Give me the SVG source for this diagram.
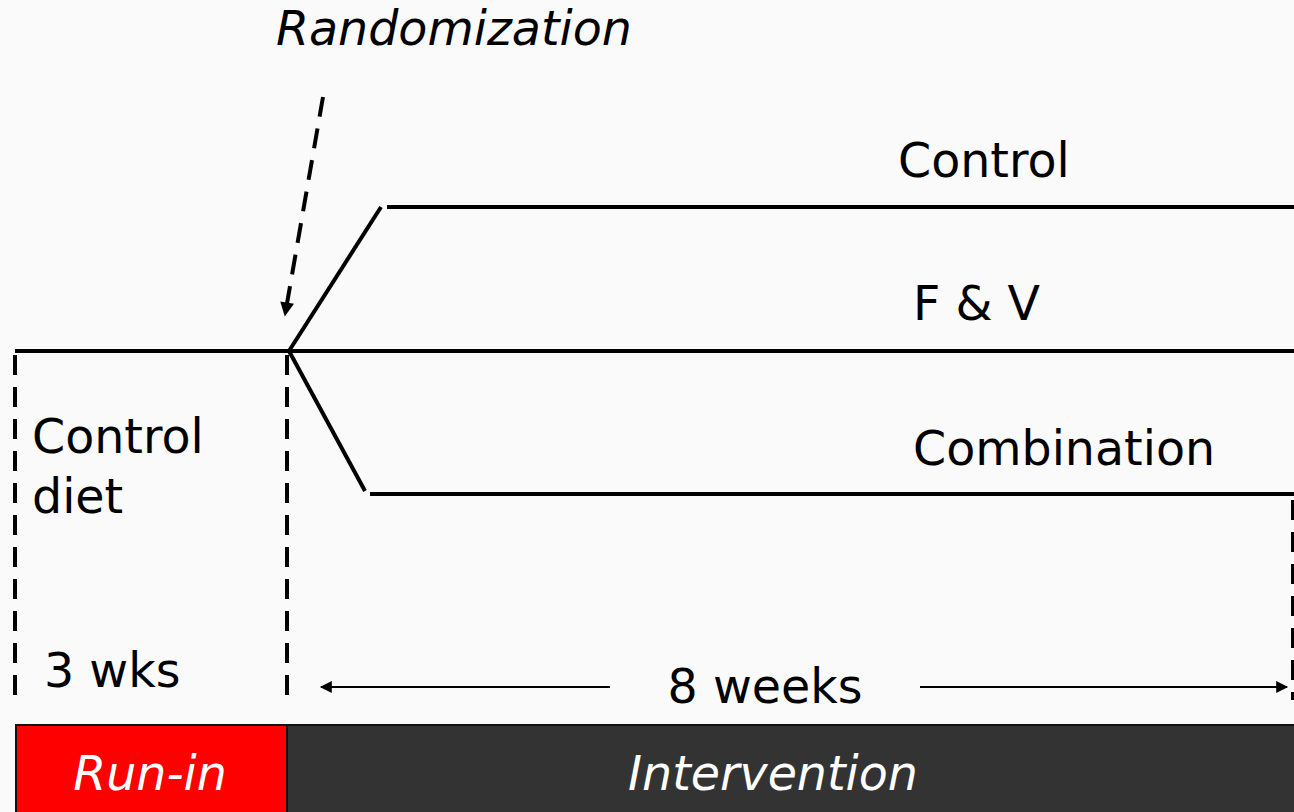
<svg xmlns="http://www.w3.org/2000/svg" width="1294" height="812" viewBox="0 0 1294 812">
<style>
.t{font-family:"DejaVu Sans",Verdana,sans-serif;font-size:47.5px;fill:#000}
.i{font-style:italic}
.w{fill:#fff}
.ln{stroke:#000;stroke-width:4;fill:none}
.dash{stroke:#000;stroke-width:4;fill:none;stroke-dasharray:20 12}
.thin{stroke:#000;stroke-width:2;fill:none}
</style>
<defs>
<marker id="ah" viewBox="0 0 10 10" refX="9" refY="5" markerWidth="14" markerHeight="12" markerUnits="userSpaceOnUse" orient="auto"><path d="M0,0L10,5L0,10z" fill="#000"/></marker>
<marker id="ah2" viewBox="0 0 10 10" refX="9" refY="5" markerWidth="16" markerHeight="14" markerUnits="userSpaceOnUse" orient="auto"><path d="M0,0L10,5L0,10z" fill="#000"/></marker>
</defs>
<rect width="1294" height="812" fill="#fafafa"/>
<g id="connectors">
<line class="ln" x1="15" y1="351" x2="1294" y2="351"/>
<polyline class="ln" points="289,351 381,207"/>
<line class="ln" x1="387" y1="207" x2="1294" y2="207"/>
<polyline class="ln" points="289,351 365,491"/>
<line class="ln" x1="370" y1="494" x2="1294" y2="494"/>
<line class="dash" x1="15" y1="355" x2="15" y2="700"/>
<line class="dash" x1="287" y1="355" x2="287" y2="700"/>
<line class="dash" x1="1293" y1="500" x2="1293" y2="700" stroke-width="3"/>
<line class="dash" x1="323" y1="97" x2="285" y2="315" stroke-width="5" marker-end="url(#ah2)"/>
<line class="thin" x1="610" y1="687" x2="321" y2="687" marker-end="url(#ah)"/>
<line class="thin" x1="920" y1="687" x2="1287" y2="687" marker-end="url(#ah)"/>
</g>
<g id="randomization"><text class="t i" x="276" y="45">Randomization</text></g>
<g id="control"><text class="t" x="898" y="177">Control</text></g>
<g id="fv"><text class="t" x="913" y="320">F &amp; V</text></g>
<g id="combination"><text class="t" x="913" y="465">Combination</text></g>
<g id="control-diet"><text class="t" x="32" y="453">Control</text><text class="t" x="32" y="513">diet</text></g>
<g id="wks3"><text class="t" x="44" y="687">3 wks</text></g>
<g id="weeks8"><text class="t" x="765" y="703" text-anchor="middle">8 weeks</text></g>
<g id="runin"><rect x="16" y="725" width="271" height="90" fill="#ff0000" stroke="#111" stroke-width="2"/><text class="t i w" x="150" y="790" text-anchor="middle">Run-in</text></g>
<g id="intervention"><rect x="287" y="725" width="1010" height="90" fill="#333" stroke="#111" stroke-width="2"/><text class="t i w" x="773" y="790" text-anchor="middle">Intervention</text></g>
</svg>
